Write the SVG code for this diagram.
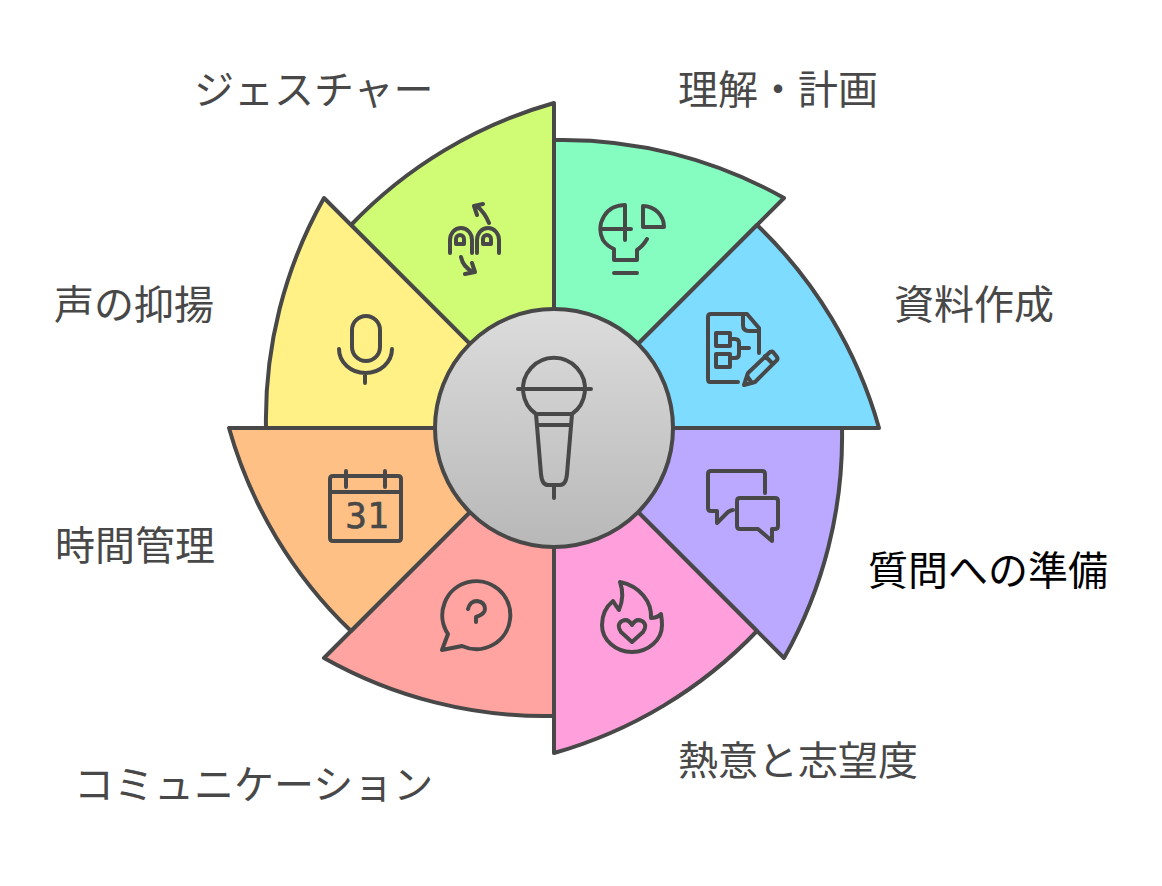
<svg xmlns="http://www.w3.org/2000/svg" width="1162" height="886" viewBox="0 0 1162 886">
<style>
.s{stroke:#484848;stroke-width:4;stroke-linejoin:round}
.i{fill:none;stroke:#484848;stroke-width:4;stroke-linecap:round;stroke-linejoin:round}
.t{font-family:"Noto Sans CJK JP","Noto Sans",sans-serif;font-size:40px;fill:#484848}
</style>
<defs><linearGradient id="g" x1="0" y1="0" x2="0" y2="1"><stop offset="0" stop-color="#dcdcdc"/><stop offset="1" stop-color="#b8b8b8"/></linearGradient></defs>
<rect width="1162" height="886" fill="#fff"/>
<g id="connectors"></g>
<g id="node-lime"><path class="s" fill="#D0FB75" d="M554 428V103A450 450 0 0 0 351 225Z"/>
<path class="i" d="M450 253V240A11 12 0 0 1 472 240V253M456 244V239A3.500 3.500 0 0 1 464 239V244ZM477 253V240A11 12 0 0 1 499 240V253M483 244V239A3.500 3.500 0 0 1 491 239V244ZM489 223Q485 213 477 206M483 204L474 206L477 215M461 257Q463 267 473 272M465 274L475 272L472 263"/></g>
<g id="node-green"><path class="s" fill="#85FDC0" d="M554 428V140A450 450 0 0 1 784 198Z"/>
<path class="i" d="M625 205V240M601 229H631M625 205A24 24 0 0 0 603 240Q607 246 614 249V260H637V250Q643 246 647 239M614 273H637M643 206V227H664A21 21 0 0 0 643 206Z"/></g>
<g id="node-blue"><path class="s" fill="#7DDCFF" d="M554 428L757 225A450 450 0 0 1 879 428Z"/>
<path class="i" d="M738 382H710Q708 382 708 379V317Q708 314 711 314H747L759 328V353M743 316V325Q743 331 749 331H759M716 333H730V346H716ZM716 354H730V367H716ZM730 339H735Q739 339 739 343V354Q739 358 735 358H730M739 348H749M744 385L748 373L770 352Q772 351 773 352L777 357Q778 359 777 360L755 382ZM765 356L773 364M747 376L752 383"/></g>
<g id="node-purple"><path class="s" fill="#BBA8FF" d="M554 428H842A450 450 0 0 1 784 658Z"/>
<path class="i" d="M765 493V474Q765 471 762 471H711Q708 471 708 474V508Q708 511 711 511H717V523L728 512Q731 510 733 510M740 498H775Q778 498 778 501V526Q778 529 775 529H772V541L758 529H740Q737 529 737 526V501Q737 498 740 498Z"/></g>
<g id="node-pink"><path class="s" fill="#FFA0DC" d="M554 428L757 631A450 450 0 0 1 554 753Z"/>
<path class="i" d="M613 601Q602 610 602 625A30 27 0 0 0 662 625Q662 620 661 614Q657 618 651 618C652 602 640 586 620 582Q625 596 619 610Q616 606 613 601ZM632 642L621 632Q616 625 622 621Q628 618 632 625Q636 618 642 621Q648 625 643 632Z"/></g>
<g id="node-red"><path class="s" fill="#FFA4A0" d="M554 428V716A450 450 0 0 1 324 658Z"/>
<path class="i" d="M448 634L442 650L462 646A34 34 0 1 0 448 634ZM468 609Q470 601 477 601Q485 602 485 609Q485 614 476 617V622"/></g>
<g id="node-orange"><path class="s" fill="#FFC085" d="M554 428L351 631A450 450 0 0 1 229 428Z"/>
<path class="i" d="M333 476H398Q401 476 401 479V538Q401 541 398 541H333Q330 541 330 538V479Q330 476 333 476ZM330 492H401M346 471V487M385 471V487"/>
<text x="367" y="528" text-anchor="middle" font-family="DejaVu Sans Mono,monospace" font-size="36" fill="#484848" stroke="#484848" stroke-width="0.6">31</text></g>
<g id="node-yellow"><path class="s" fill="#FFF185" d="M554 428H266A450 450 0 0 1 324 198Z"/>
<path class="i" d="M352 330A14 14 0 0 1 380 330V347A14 14 0 0 1 352 347ZM339 349A26.500 24 0 0 0 392 349M365 373V383"/></g>
<g id="node-center"><circle class="s" cx="554" cy="428" r="119" fill="url(#g)"/>
<path class="i" d="M518 389H591M536 414A31 31 0 1 1 572 414ZM536 414L541 474Q542 485 548 485H560Q566 485 567 474L572 414M537 425H571M554 485V498"/></g>
<g id="labels">
<text class="t" x="194" y="104">ジェスチャー</text>
<text class="t" x="678" y="104">理解・計画</text>
<text class="t" x="894" y="319">資料作成</text>
<text class="t" x="54" y="319">声の抑揚</text>
<text class="t" x="55" y="560">時間管理</text>
<text class="t" x="868" y="585" style="fill:#000">質問への準備</text>
<text class="t" x="678" y="775">熱意と志望度</text>
<text class="t" x="74" y="799">コミュニケーション</text>
</g>
</svg>
